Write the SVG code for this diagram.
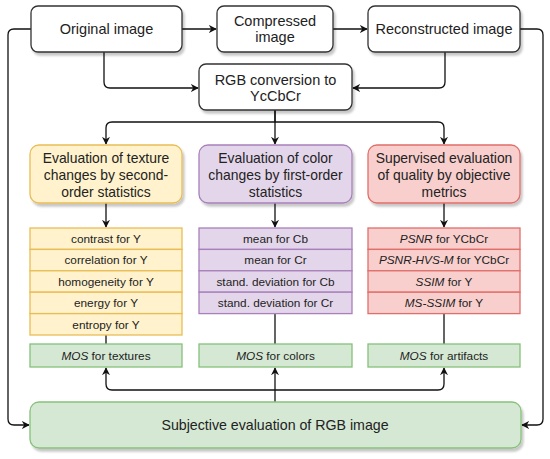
<svg xmlns="http://www.w3.org/2000/svg" width="550" height="459" viewBox="0 0 550 459">
<defs>
<style>
.t{font-family:"Liberation Sans",Arial,sans-serif;fill:#222;text-anchor:middle}
.big{font-size:14.5px}
.ev{font-size:13.9px}
.mid{font-size:14.2px}
.sm{font-size:11.8px}
.wb{fill:#fff;stroke:#333;stroke-width:1.3}
.y{fill:#fff2cc;stroke:#e8bd55;stroke-width:1.3}
.p{fill:#e4d6ea;stroke:#a880bb;stroke-width:1.3}
.r{fill:#f9cfcd;stroke:#e06e6a;stroke-width:1.3}
.g{fill:#d5e8d4;stroke:#86c17a;stroke-width:1.3}
.c{fill:none;stroke:#111;stroke-width:1.3}
</style>
<filter id="sh" x="-10%" y="-10%" width="130%" height="140%">
<feDropShadow dx="2" dy="3" stdDeviation="1.2" flood-color="#000" flood-opacity="0.22"/>
</filter>
<marker id="ah" viewBox="0 0 10 10" refX="9" refY="5" markerWidth="8" markerHeight="8" markerUnits="userSpaceOnUse" orient="auto">
<path d="M0,0 L10,5 L0,10 L3,5 Z" fill="#111"/>
</marker>
</defs>

<g id="connectors">
<path class="c" d="M182,29 H216" marker-end="url(#ah)"/>
<path class="c" d="M333,29 H367" marker-end="url(#ah)"/>
<path class="c" d="M104,52 V82 Q104,88 110,88 H198" marker-end="url(#ah)"/>
<path class="c" d="M445,52 V82 Q445,88 439,88 H353" marker-end="url(#ah)"/>
<path class="c" d="M275,110 V122 H112 Q106,122 106,128 V144" marker-end="url(#ah)"/>
<path class="c" d="M275,110 V144" marker-end="url(#ah)"/>
<path class="c" d="M275,122 H438 Q444,122 444,128 V144" marker-end="url(#ah)"/>
<path class="c" d="M106,203 V227" marker-end="url(#ah)"/>
<path class="c" d="M275,203 V227" marker-end="url(#ah)"/>
<path class="c" d="M444,203 V227" marker-end="url(#ah)"/>
<path class="c" d="M106,335 V344"/>
<path class="c" d="M275,313.6 V344"/>
<path class="c" d="M444,313.6 V344"/>
<path class="c" d="M275,402 V368" marker-end="url(#ah)"/>
<path class="c" d="M275,390 H112 Q106,390 106,384 V368" marker-end="url(#ah)"/>
<path class="c" d="M275,390 H438 Q444,390 444,384 V368" marker-end="url(#ah)"/>
<path class="c" d="M31,29 H14 Q8,29 8,35 V419 Q8,425 14,425 H29" marker-end="url(#ah)"/>
<path class="c" d="M520,29 H537 Q543,29 543,35 V419 Q543,425 537,425 H522" marker-end="url(#ah)"/>
</g>

<g id="original">
<rect class="wb" x="31" y="6" width="151" height="46" rx="7" filter="url(#sh)"/>
<text class="t big" x="106.5" y="34">Original image</text>
</g>
<g id="compressed">
<rect class="wb" x="217" y="6" width="116" height="46" rx="7" filter="url(#sh)"/>
<text class="t big" x="275" y="26">Compressed</text>
<text class="t big" x="275" y="42">image</text>
</g>
<g id="reconstructed">
<rect class="wb" x="368" y="6" width="152" height="46" rx="7" filter="url(#sh)"/>
<text class="t big" x="444" y="34">Reconstructed image</text>
</g>
<g id="rgb">
<rect class="wb" x="199" y="64" width="153" height="46" rx="7" filter="url(#sh)"/>
<text class="t big" x="275.5" y="85">RGB conversion to</text>
<text class="t big" x="275.5" y="101">YcCbCr</text>
</g>

<g id="eval-texture">
<rect class="y" x="30" y="145" width="152" height="58" rx="9" filter="url(#sh)"/>
<text class="t ev" x="106" y="163">Evaluation of texture</text>
<text class="t ev" x="106" y="180">changes by second-</text>
<text class="t ev" x="106" y="197">order statistics</text>
</g>
<g id="eval-color">
<rect class="p" x="199" y="145" width="153" height="58" rx="9" filter="url(#sh)"/>
<text class="t ev" x="275.5" y="163">Evaluation of color</text>
<text class="t ev" x="275.5" y="180">changes by first-order</text>
<text class="t ev" x="275.5" y="197">statistics</text>
</g>
<g id="eval-quality">
<rect class="r" x="368" y="145" width="152" height="58" rx="9" filter="url(#sh)"/>
<text class="t ev" x="444" y="163">Supervised evaluation</text>
<text class="t ev" x="444" y="180">of quality by objective</text>
<text class="t ev" x="444" y="197">metrics</text>
</g>

<g id="list-texture">
<rect class="y" x="30" y="228" width="152" height="21.4"/>
<rect class="y" x="30" y="249.4" width="152" height="21.4"/>
<rect class="y" x="30" y="270.8" width="152" height="21.4"/>
<rect class="y" x="30" y="292.2" width="152" height="21.4"/>
<rect class="y" x="30" y="313.6" width="152" height="21.4"/>
<text class="t sm" x="106" y="243">contrast for Y</text>
<text class="t sm" x="106" y="264.4">correlation for Y</text>
<text class="t sm" x="106" y="285.8">homogeneity for Y</text>
<text class="t sm" x="106" y="307.2">energy for Y</text>
<text class="t sm" x="106" y="328.6">entropy for Y</text>
</g>
<g id="list-color">
<rect class="p" x="199" y="228" width="153" height="21.4"/>
<rect class="p" x="199" y="249.4" width="153" height="21.4"/>
<rect class="p" x="199" y="270.8" width="153" height="21.4"/>
<rect class="p" x="199" y="292.2" width="153" height="21.4"/>
<text class="t sm" x="275.5" y="243">mean for Cb</text>
<text class="t sm" x="275.5" y="264.4">mean for Cr</text>
<text class="t sm" x="275.5" y="285.8">stand. deviation for Cb</text>
<text class="t sm" x="275.5" y="307.2">stand. deviation for Cr</text>
</g>
<g id="list-quality">
<rect class="r" x="368" y="228" width="152" height="21.4"/>
<rect class="r" x="368" y="249.4" width="152" height="21.4"/>
<rect class="r" x="368" y="270.8" width="152" height="21.4"/>
<rect class="r" x="368" y="292.2" width="152" height="21.4"/>
<text class="t sm" x="444" y="243"><tspan font-style="italic">PSNR</tspan> for YCbCr</text>
<text class="t sm" x="444" y="264.4"><tspan font-style="italic">PSNR-HVS-M</tspan> for YCbCr</text>
<text class="t sm" x="444" y="285.8"><tspan font-style="italic">SSIM</tspan> for Y</text>
<text class="t sm" x="444" y="307.2"><tspan font-style="italic">MS-SSIM</tspan> for Y</text>
</g>

<g id="mos-textures">
<rect class="g" x="30" y="344" width="152" height="23"/>
<text class="t sm" x="106" y="360"><tspan font-style="italic">MOS</tspan> for textures</text>
</g>
<g id="mos-colors">
<rect class="g" x="199" y="344" width="153" height="23"/>
<text class="t sm" x="275.5" y="360"><tspan font-style="italic">MOS</tspan> for colors</text>
</g>
<g id="mos-artifacts">
<rect class="g" x="368" y="344" width="152" height="23"/>
<text class="t sm" x="444" y="360"><tspan font-style="italic">MOS</tspan> for artifacts</text>
</g>

<g id="subjective">
<rect class="g" x="30" y="402" width="491" height="46" rx="9" filter="url(#sh)"/>
<text class="t mid" x="275" y="430">Subjective evaluation of RGB image</text>
</g>
</svg>
